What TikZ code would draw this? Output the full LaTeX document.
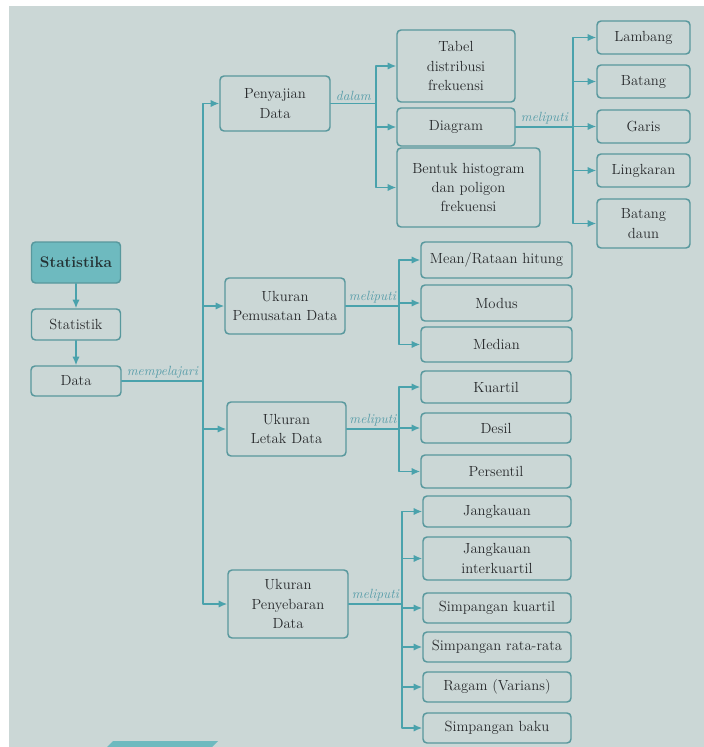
\documentclass[tikz,border=0pt]{standalone}
\usetikzlibrary{arrows.meta,positioning}
\definecolor{latar}{RGB}{203,215,214}
\definecolor{garisteal}{RGB}{74,162,172}
\definecolor{tepikotak}{RGB}{88,152,157}
\definecolor{isiutama}{RGB}{110,186,191}
\definecolor{teksabu}{RGB}{40,42,44}
\definecolor{labelteal}{RGB}{90,158,170}

\begin{document}
\begin{tikzpicture}[x=.75pt,y=-.75pt,line cap=round,line join=round,
 kotak/.style={draw=tepikotak,line width=1.1pt,rounded corners=3pt,fill=latar,
  align=center,text=teksabu,font=\fontsize{11}{14.5}\selectfont,inner sep=2pt},
 ukuran/.style 2 args={minimum width=#1*.75pt,minimum height=#2*.75pt},
 hubung/.style={draw=garisteal,line width=1.1pt},
 panah/.style={hubung,-{Latex[length=6.5pt,width=5.5pt]}},
 kata/.style={text=labelteal,font=\fontsize{10}{12}\selectfont\itshape,
  above,inner sep=1.5pt}]
\useasboundingbox (0,0) rectangle (704,747);
% Kertas foto dengan tepi putih di kiri dan atas.
\fill[white] (0,0) rectangle (704,747);
\fill[latar] (9,6) rectangle (704,747);
\fill[isiutama] (107,747)--(113,741)--(218,741)--(212,747)--cycle;
% Kolom kiri: Statistika, Statistik, Data.
\node[kotak,ukuran={89}{41},fill=isiutama,font=\fontsize{11.5}{14.5}\selectfont\bfseries,
 text=teksabu!90!teal] (statistika) at (76,262.5) {Statistika};
\node[kotak,ukuran={89}{31}] (statistik) at (76,324.5) {Statistik};
\node[kotak,ukuran={90}{30}] (data) at (76,381) {Data};
\draw[panah] (statistika) -- (statistik);
\draw[panah] (statistik) -- (data);
% Empat cabang utama.
\node[kotak,ukuran={110}{55}] (penyajian) at (275,103.5) {Penyajian\\Data};
\node[kotak,ukuran={120}{56}] (pemusatan) at (285,306) {Ukuran\\Pemusatan Data};
\node[kotak,ukuran={119}{54}] (letak) at (286.5,429) {Ukuran\\Letak Data};
\node[kotak,ukuran={120}{68}] (penyebaran) at (288,604) {Ukuran\\Penyebaran\\Data};
\coordinate (cabang) at (203,381);
\draw[hubung] (data.east) -- (cabang) node[kata,midway] {mempelajari};
\draw[panah] (cabang) |- (penyajian.west);
\draw[panah] (cabang) |- (pemusatan.west);
\draw[panah] (cabang) |- (letak.west);
\draw[panah] (cabang) |- (penyebaran.west);
% Penyajian data dan jenis diagram.
\node[kotak,ukuran={118}{72}] (tabel) at (456,66) {Tabel\\distribusi\\frekuensi};
\node[kotak,ukuran={118}{38}] (diagram) at (456,127) {Diagram};
\node[kotak,ukuran={143}{79}] (histogram) at (468.5,187.5) {Bentuk histogram\\dan poligon\\frekuensi};
\coordinate (cabangsaji) at (376,103.5);
\draw[hubung] (penyajian.east) -- (cabangsaji) node[kata,midway] {dalam};
\draw[panah] (cabangsaji) |- (tabel.west);
\draw[panah] (cabangsaji) |- (diagram.west);
\draw[panah] (cabangsaji) |- (histogram.west);
\node[kotak,ukuran={93}{33}] (lambang) at (643.5,37.5) {Lambang};
\node[kotak,ukuran={93}{33}] (batang) at (643.5,81.5) {Batang};
\node[kotak,ukuran={93}{33}] (garis) at (643.5,126.5) {Garis};
\node[kotak,ukuran={93}{33}] (lingkaran) at (643.5,170.5) {Lingkaran};
\node[kotak,ukuran={93}{49}] (batangdaun) at (643.5,223.5) {Batang\\daun};
\coordinate (cabangdiag) at (573,127);
\draw[hubung] (diagram.east) -- (cabangdiag) node[kata,midway] {meliputi};
\foreach \jenis in {lambang,batang,garis,lingkaran,batangdaun}
 \draw[panah] (cabangdiag) |- (\jenis.west);
% Ukuran pemusatan data.
\node[kotak,ukuran={151}{36}] (mean) at (496.5,260) {Mean/Rataan hitung};
\node[kotak,ukuran={151}{36}] (modus) at (496.5,303) {Modus};
\node[kotak,ukuran={151}{35}] (median) at (496.5,344.5) {Median};
\coordinate (cabangpusat) at (399,306);
\draw[hubung] (pemusatan.east) -- (cabangpusat) node[kata,midway] {meliputi};
\foreach \jenis in {mean,modus,median}
 \draw[panah] (cabangpusat) |- (\jenis.west);
% Ukuran letak data.
\node[kotak,ukuran={150}{32}] (kuartil) at (496,387) {Kuartil};
\node[kotak,ukuran={150}{30}] (desil) at (496,428) {Desil};
\node[kotak,ukuran={150}{33}] (persentil) at (496,471.5) {Persentil};
\coordinate (cabangletak) at (399,429);
\draw[hubung] (letak.east) -- (cabangletak) node[kata,midway] {meliputi};
\foreach \jenis in {kuartil,desil,persentil}
 \draw[panah] (cabangletak) |- (\jenis.west);
% Ukuran penyebaran data.
\node[kotak,ukuran={148}{31}] (jangkauan) at (497,511.5) {Jangkauan};
\node[kotak,ukuran={148}{43}] (interkuartil) at (497,558.5) {Jangkauan\\interkuartil};
\node[kotak,ukuran={148}{30}] (simpkuartil) at (497,608) {Simpangan kuartil};
\node[kotak,ukuran={148}{30}] (simprata) at (497,647) {Simpangan rata-rata};
\node[kotak,ukuran={148}{30}] (ragam) at (497,687) {Ragam (Varians)};
\node[kotak,ukuran={148}{30}] (simpbaku) at (497,728) {Simpangan baku};
\coordinate (cabangsebar) at (402,604);
\draw[hubung] (penyebaran.east) -- (cabangsebar) node[kata,midway] {meliputi};
\foreach \jenis in {jangkauan,interkuartil,simpkuartil,simprata,ragam,simpbaku}
 \draw[panah] (cabangsebar) |- (\jenis.west);
\end{tikzpicture}
\end{document}
